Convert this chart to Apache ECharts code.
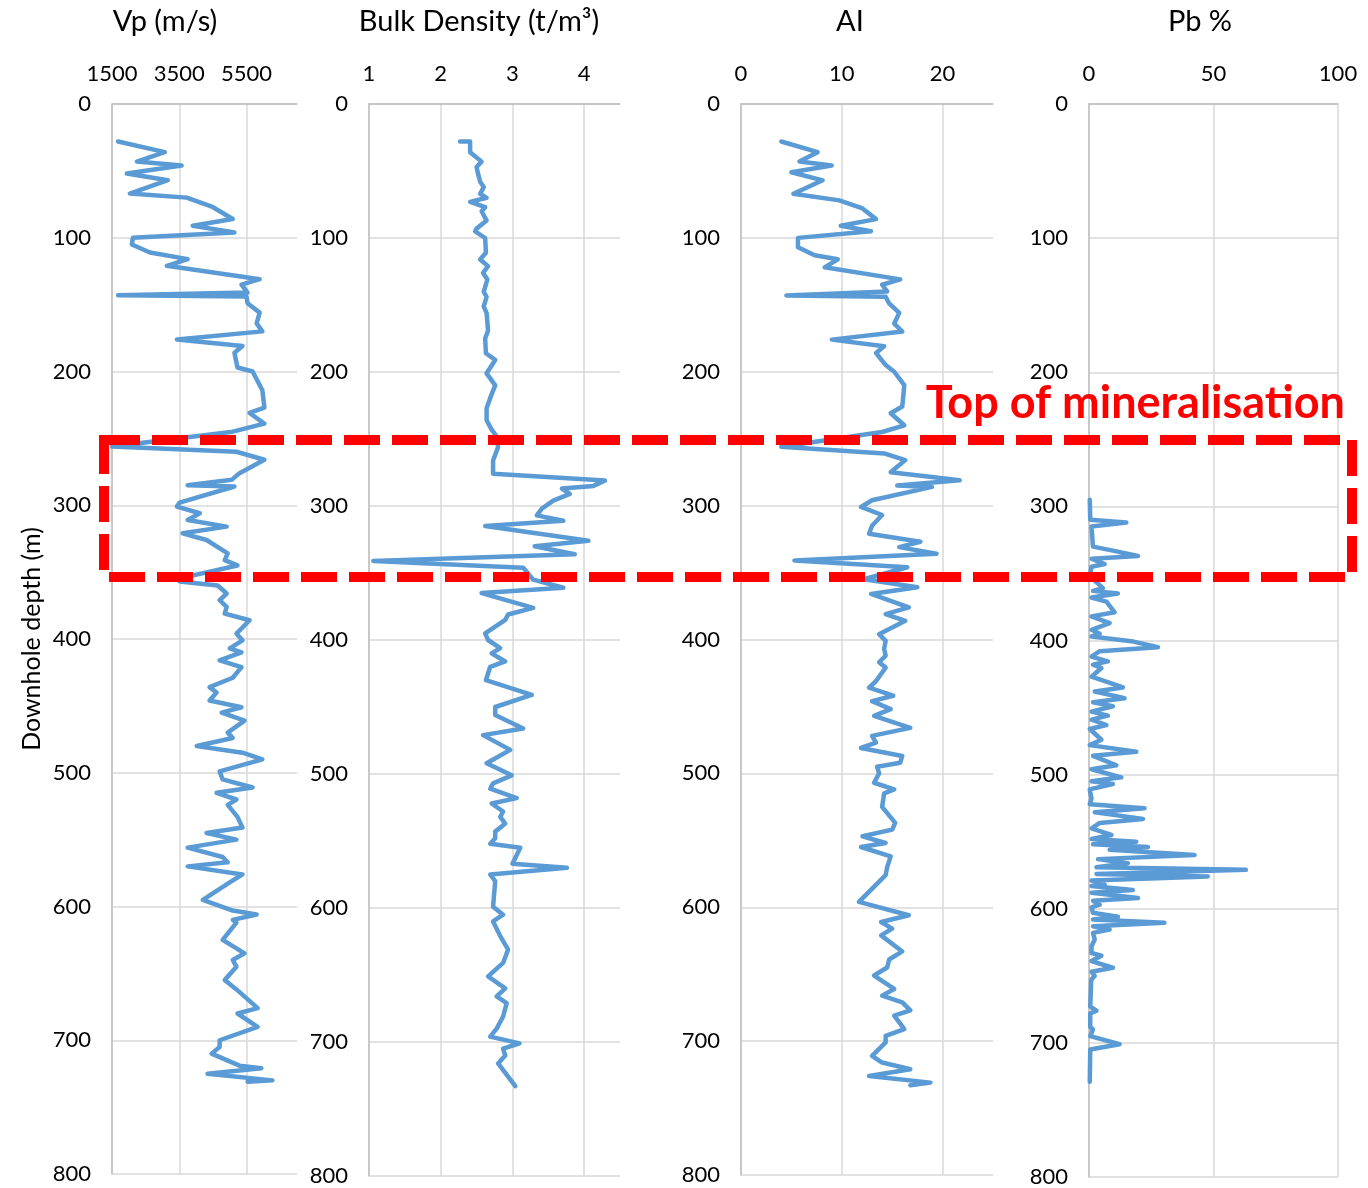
<!DOCTYPE html>
<html><head><meta charset="utf-8">
<script src="https://cdn.jsdelivr.net/npm/echarts@6/dist/echarts.min.js"></script>
<style>html,body{margin:0;padding:0;background:#fff}#c{width:1368px;height:1188px}</style>
</head><body><div id="c"></div><script>
const vpDepth = [28,36,43,46,52,57,67,70,77,86,91,96,100,105,111,116,121,131,135,141,143,144,149,156,164,170,176,181,186,197,200,214,227,231,239,245,256,260,266,276,281,285,286,298,301,306,311,316,321,326,336,341,345,353,357,360,366,371,376,381,386,396,401,407,410,416,421,429,436,440,446,451,455,461,470,474,480,485,490,499,505,511,515,520,524,533,541,545,550,556,563,567,570,576,582,595,603,606,610,612,625,635,640,645,655,662,676,680,690,700,705,710,719,721,725,730,731];
const vpValue = [1680,3070,2240,3570,1940,3160,2030,3720,4490,5090,3900,5140,2120,2090,2630,3750,3130,5890,5350,5530,1680,5500,5530,5890,5800,5970,3430,5380,5140,5230,5680,5970,6030,5590,6030,5090,1500,5200,6030,5290,5060,3750,5140,3510,3430,4110,3750,4910,3600,4310,4940,4850,5230,3810,3510,4640,4910,4700,4910,4850,5590,5200,5380,5000,5350,4700,5350,5090,4400,4610,4400,5350,4760,5440,4940,5090,4020,5380,5970,4700,4790,5680,4610,5200,4940,5230,5380,4310,5200,3750,4790,4940,3750,5380,5000,4200,5090,5800,5090,5200,4790,5440,5090,5200,4850,5200,5830,5230,5830,4700,4700,4460,5290,5940,4340,6270,5530];

const rhoDepth = [28,28,36,43,47,52,58,62,67,70,73,77,80,87,93,95,100,111,116,121,126,131,140,144,151,156,169,175,186,191,201,210,218,227,236,243,248,256,266,276,281,285,287,291,296,302,307,311,315,326,330,336,341,346,355,361,365,376,381,385,395,400,406,410,416,420,430,441,450,456,466,471,482,492,501,507,511,518,522,528,532,537,543,548,552,555,567,570,575,580,599,605,610,621,631,641,651,660,666,671,681,690,696,701,705,710,716,733];
const rhoValue = [2.27,2.41,2.41,2.57,2.50,2.52,2.55,2.60,2.55,2.64,2.41,2.62,2.57,2.64,2.50,2.48,2.62,2.63,2.55,2.66,2.59,2.65,2.60,2.64,2.60,2.64,2.66,2.62,2.63,2.76,2.64,2.76,2.70,2.64,2.64,2.71,2.78,2.80,2.73,2.73,4.29,4.13,3.69,3.80,3.57,3.41,3.34,3.71,2.62,4.06,3.31,3.87,1.06,3.15,3.29,3.71,2.57,3.29,2.94,2.90,2.62,2.66,2.83,2.71,2.90,2.69,2.63,3.27,2.76,2.76,3.15,2.59,2.97,2.64,2.99,2.73,2.69,3.06,2.71,2.87,2.83,2.90,2.76,2.76,2.69,3.11,3.00,3.76,2.69,2.76,2.73,2.87,2.73,2.83,2.94,2.87,2.66,2.90,2.78,2.92,2.87,2.78,2.69,3.10,2.87,2.90,2.80,3.04];

const aiDepth = [28,36,43,46,51,57,67,72,78,86,91,95,100,107,113,116,122,131,135,140,143,144,149,156,164,170,176,181,186,195,200,210,226,231,240,245,256,261,266,275,281,285,286,296,301,307,315,321,327,331,336,341,346,355,361,366,376,381,386,396,401,407,412,417,421,431,436,442,446,452,457,466,472,477,481,487,492,495,500,507,512,515,525,537,542,547,552,555,562,570,576,596,606,611,616,621,633,639,645,651,661,666,671,677,681,691,696,701,711,716,721,726,731,733];
const aiValue = [4.0,7.6,5.8,9.0,5.0,8.1,5.2,9.75,12.05,13.4,9.9,12.9,5.65,5.65,7.3,9.6,8.3,15.8,14.0,14.5,4.5,14.35,14.7,15.7,15.2,16.0,9.0,14.2,13.4,14.35,15.2,16.2,16.0,14.85,16.2,14.0,4.0,14.2,16.3,14.85,21.7,15.5,18.95,13.0,11.9,14.0,13.0,12.7,17.8,15.7,19.4,5.3,16.5,12.2,17.5,12.9,16.65,14.35,16.3,13.7,14.35,14.2,14.35,13.7,14.35,13.4,12.7,15.1,13.0,14.85,13.2,16.8,13.0,13.4,11.9,16.0,15.8,13.5,13.7,13.2,15.2,14.2,14.0,15.3,15.0,12.05,14.35,11.9,14.85,14.5,14.35,11.7,16.65,13.9,15.0,13.9,16.0,14.7,14.5,13.2,15.2,14.0,16.0,16.8,15.2,16.2,14.35,14.35,13.0,14.0,16.8,12.7,18.8,16.8];

const pbDepth = [295,310,312,315,330,333,337,339,343,345,352,361,363,365,368,371,379,382,387,392,395,397,400.5,405,408,412,415.5,418,420.5,427,432,435,438,443,446,449,453,456,459,463,466,474,478,483,486,493,496,502,505,507,511,518,522,525,528,533,536,540,545,548,550,552,554,556,560,563,566,569,571,574,576,579,582,583,586,588,592,594,597,599,603,606,608,610.5,613,615.5,618,623,628,633,635,639,644,647,650,653,673,676,678,688,690,695,701,705,729];
const pbValue = [0.3,0.5,15,1,1.6,9.6,19.7,1,6.3,1,0.3,5.6,1.6,11.6,1,7,10.3,1,8.3,1,4.3,1,17,27.7,4.3,1,7.6,1.6,5,1,9,13.6,2.3,14.3,1.6,9.6,1,7.6,1,7,0.3,5,0.3,19,1.6,11,1,13,1,9.6,0.3,1,0.3,22.3,2.3,21.7,4.3,1,9,1,19,1.6,23.7,8.3,42.4,3.6,15.6,3,63,3,47.7,1,6.3,1,17.6,1,19.7,1.6,4.3,1,1.6,11.6,1.6,30.3,1.6,8.3,1.6,2.3,1,1,5,1,9.6,1,2.3,0.9,0.5,3,0.5,0.5,1.6,0.5,12.3,0.5,0.3];

const titles = ['Vp (m/s)', 'Bulk Density (t/m\u00B3)', 'AI', 'Pb %'];
const xMin = [1500, 1, 0, 0];
const xMax = [7000, 4.5, 25, 100];
const xStep = [2000, 1, 10, 50];
const depthMin = 0, depthMax = 800, depthStep = 100;

// ---------- layout / style ----------
const FONT = 'Lato, "Open Sans", sans-serif';
const grids = [
  {left:112, top:104, width:185, height:1070},
  {left:369, top:104, width:251, height:1072},
  {left:741, top:104, width:252, height:1071},
  {left:1089, top:104, width:249, height:1074}
];
const titleX = [165, 479, 850, 1200];
const COLOR = '#5b9bd5';

function pairs(dep, val){ return dep.map((d,i)=>[val[i], d]); }
const seriesData = [pairs(vpDepth,vpValue), pairs(rhoDepth,rhoValue), pairs(aiDepth,aiValue), pairs(pbDepth,pbValue)];

const xAxis = grids.map((g,i)=>({
  gridIndex:i, type:'value', position:'top',
  min:xMin[i], max:xMax[i], interval:xStep[i],
  axisLine:{show:true, onZero:false, lineStyle:{color:'#bfbfbf', width:1.5}},
  axisTick:{show:false},
  axisLabel:{color:'#000', fontSize:22, fontFamily:FONT, margin:19,
    formatter:v=>{ const k=(v-xMin[i])/xStep[i]; return Math.abs(k-Math.round(k))<1e-6 ? String(v) : ''; }},
  splitLine:{show:true, showMaxLine: (xMax[i]-xMin[i])%xStep[i]===0, lineStyle:{color:'#d9d9d9', width:1.5}}
}));
const yAxis = grids.map((g,i)=>({
  gridIndex:i, type:'value', inverse:true, min:depthMin, max:depthMax, interval:depthStep,
  name: i===0 ? 'Downhole depth (m)' : '', nameLocation:'middle', nameGap:68,
  nameTextStyle:{color:'#000', fontSize:25, fontFamily:FONT},
  axisLine:{show:true, onZero:false, lineStyle:{color:'#bfbfbf', width:1.5}},
  axisTick:{show:false},
  axisLabel:{color:'#000', fontSize:22, fontFamily:FONT, margin:21, formatter:v=>String(v)},
  splitLine:{show:true, lineStyle:{color:'#d9d9d9', width:1.5}}
}));
const series = seriesData.map((d,i)=>({
  type:'line', xAxisIndex:i, yAxisIndex:i, data:d,
  showSymbol:false, symbol:'none', smooth:false,
  lineStyle:{color:COLOR, width:4.5, join:'round', cap:'round'}, itemStyle:{color:COLOR}
}));
const graphic = titles.map((t,i)=>({
  type:'text', x:titleX[i], y:22,
  style:{text:t, fill:'#000', font:'29px '+FONT, align:'center', verticalAlign:'middle', textAlign:'center', textVerticalAlign:'middle'}
}));
graphic.push({
  type:'rect', z:100,
  shape:{x:104, y:440, width:1248, height:137},
  style:{fill:'none', stroke:'#ff0000', lineWidth:10, lineDash:[36,12]}
});
graphic.push({
  type:'text', z:100, x:1345, y:403,
  style:{text:'Top of mineralisation', fill:'#ff0000', font:'bold 45px '+FONT, align:'right', verticalAlign:'middle', textAlign:'right', textVerticalAlign:'middle'}
});

const chart = echarts.init(document.getElementById('c'), null, {renderer:'canvas'});
chart.setOption({
  animation:false, backgroundColor:'#fff',
  grid:grids, xAxis, yAxis, series, graphic
});
</script></body></html>
